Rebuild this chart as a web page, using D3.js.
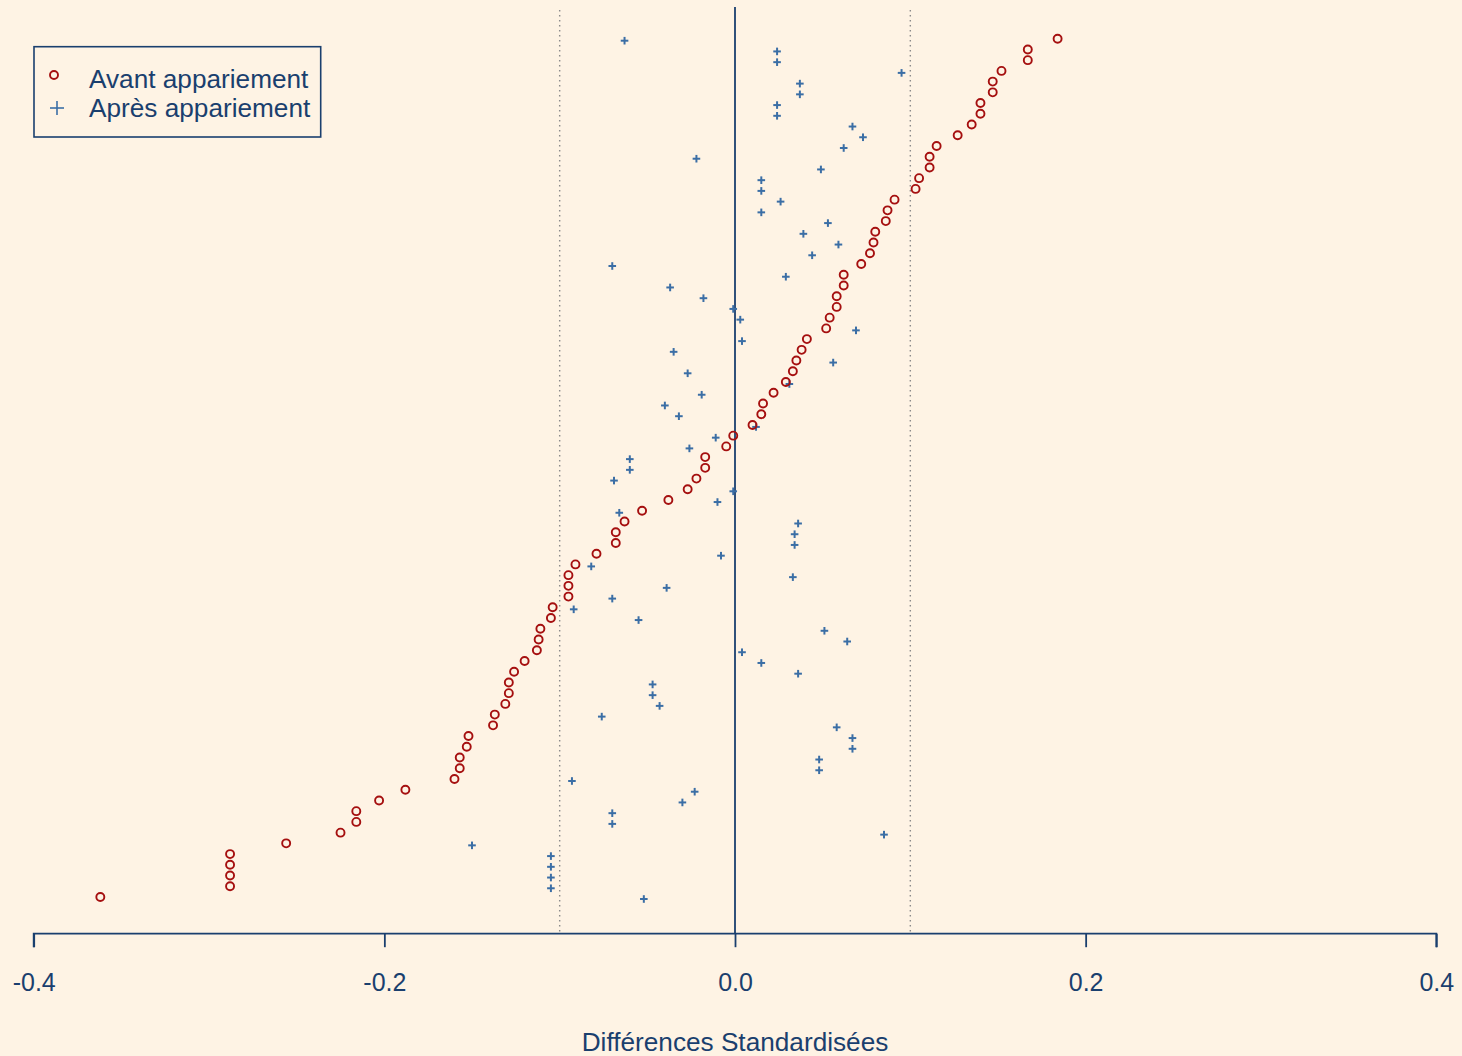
<!DOCTYPE html>
<html>
<head>
<meta charset="utf-8">
<script src="https://cdn.jsdelivr.net/npm/d3@7"></script>
<style>
    body { margin: 0; background: #fef3e4; }
    svg { display: block; font-family: "Liberation Sans", Arial, sans-serif; }
</style>
</head>
<body>
<div id="chart"></div>
<script>
// Standardised differences per variable, top row first
const AVANT = [
    0.184, 0.167, 0.167, 0.152, 0.147, 0.147, 0.140, 0.140, 0.135, 0.127,
    0.115, 0.111, 0.111, 0.105, 0.103, 0.091, 0.087, 0.086, 0.080, 0.079,
    0.077, 0.072, 0.062, 0.062, 0.058, 0.058, 0.054, 0.052, 0.041, 0.038,
    0.035, 0.033, 0.029, 0.022, 0.016, 0.015, 0.010, -0.001, -0.005, -0.017,
    -0.017, -0.022, -0.027, -0.038, -0.053, -0.063, -0.068, -0.068, -0.079, -0.091,
    -0.095, -0.095, -0.095, -0.104, -0.105, -0.111, -0.112, -0.113, -0.120, -0.126,
    -0.129, -0.129, -0.131, -0.137, -0.138, -0.152, -0.153, -0.157, -0.157, -0.160,
    -0.188, -0.203, -0.216, -0.216, -0.225, -0.256, -0.288, -0.288, -0.288, -0.288,
    -0.362
];

const APRES = [
    -0.063, 0.024, 0.024, 0.095, 0.037, 0.037, 0.024, 0.024, 0.067, 0.073,
    0.062, -0.022, 0.049, 0.015, 0.015, 0.026, 0.015, 0.053, 0.039, 0.059,
    0.044, -0.070, 0.029, -0.037, -0.018, -0.001, 0.003, 0.069, 0.004, -0.035,
    0.056, -0.027, 0.031, -0.019, -0.040, -0.032, 0.012, -0.011, -0.026, -0.060,
    -0.060, -0.069, -0.001, -0.010, -0.066, 0.036, 0.034, 0.034, -0.008, -0.082,
    0.033, -0.039, -0.070, -0.092, -0.055, 0.051, 0.064, 0.004, 0.015, 0.036,
    -0.047, -0.047, -0.043, -0.076, 0.058, 0.067, 0.067, 0.048, 0.048, -0.093,
    -0.023, -0.030, -0.070, -0.070, 0.085, -0.150, -0.105, -0.105, -0.105, -0.105,
    -0.052
];

const X_TICKS = [-0.4, -0.2, 0.0, 0.2, 0.4];
const THRESHOLDS = [-0.1, 0.1];
const LEGEND = ['Avant appariement', 'Après appariement'];
const X_TITLE = 'Différences Standardisées';

const W = 1462, H = 1056;
const RED = '#a50f0f';
const BLUE = '#3b6ea5';
const NAVY = '#1a3f6e';

const svg = d3.select('#chart').append('svg')
    .attr('width', W)
    .attr('height', H);

svg.append('rect')
    .attr('width', W).attr('height', H)
    .attr('fill', '#fef3e4');

// --- Scales ---
const x = d3.scaleLinear()
    .domain([-0.4, 0.4])
    .range([33.7, 1436.3]);

const y = d3.scaleLinear()
    .domain([0, AVANT.length - 1])
    .range([38.7, 897]);

const axisY = 933.7;
const plotTop = 7;

// --- Reference lines ---
THRESHOLDS.forEach(t => {
    svg.append('line')
        .attr('x1', x(t)).attr('x2', x(t))
        .attr('y1', plotTop + 3).attr('y2', axisY)
        .attr('stroke', '#8a8a8a')
        .attr('stroke-width', 1.4)
        .attr('stroke-dasharray', '1.4,3.6');
});

svg.append('line')
    .attr('x1', x(0)).attr('x2', x(0))
    .attr('y1', plotTop).attr('y2', axisY)
    .attr('stroke', NAVY)
    .attr('stroke-width', 1.8);

// --- Markers ---
const plusArm = 3.8;

function drawPlus(g, cx, cy) {
    g.append('line')
        .attr('x1', cx - plusArm).attr('x2', cx + plusArm)
        .attr('y1', cy).attr('y2', cy);
    g.append('line')
        .attr('x1', cx).attr('x2', cx)
        .attr('y1', cy - plusArm).attr('y2', cy + plusArm);
}

const plusG = svg.append('g')
    .attr('stroke', BLUE)
    .attr('stroke-width', 2);

APRES.forEach((v, i) => drawPlus(plusG, x(v), y(i) + 2));

svg.selectAll('.avant')
    .data(AVANT)
    .enter().append('circle')
    .attr('class', 'avant')
    .attr('cx', d => x(d))
    .attr('cy', (d, i) => y(i))
    .attr('r', 4)
    .attr('fill', 'none')
    .attr('stroke', RED)
    .attr('stroke-width', 1.9);

// --- Axis ---
const axis = svg.append('g')
    .attr('transform', `translate(0,${axisY})`)
    .call(d3.axisBottom(x).tickValues(X_TICKS).tickSize(13.5).tickPadding(0).tickFormat(d3.format('.1f')));

axis.select('.domain')
    .attr('stroke', NAVY)
    .attr('stroke-width', 1.8)
    .attr('d', `M${x(-0.4)},13.5V0H${x(0.4)}V13.5`);

axis.selectAll('.tick line')
    .attr('stroke', NAVY)
    .attr('stroke-width', 1.8);

axis.selectAll('.tick text')
    .attr('fill', NAVY)
    .attr('font-size', '25px')
    .attr('dy', null)
    .attr('y', 57.5)
    .text(d => d3.format('.1f')(d).replace('−', '-'));

axis.attr('font-family', null);

svg.append('text')
    .attr('x', x(0))
    .attr('y', 1051)
    .attr('text-anchor', 'middle')
    .attr('fill', NAVY)
    .attr('font-size', '26.2px')
    .text(X_TITLE);

// --- Legend ---
const legend = svg.append('g');

legend.append('rect')
    .attr('x', 34).attr('y', 46.7)
    .attr('width', 286.7).attr('height', 90.3)
    .attr('fill', '#fef3e4')
    .attr('stroke', NAVY)
    .attr('stroke-width', 1.6);

legend.append('circle')
    .attr('cx', 54).attr('cy', 75)
    .attr('r', 4)
    .attr('fill', 'none')
    .attr('stroke', RED)
    .attr('stroke-width', 1.9);

const legPlus = legend.append('g')
    .attr('stroke', BLUE)
    .attr('stroke-width', 1.6);
legPlus.append('line').attr('x1', 50).attr('x2', 64).attr('y1', 108).attr('y2', 108);
legPlus.append('line').attr('x1', 57).attr('x2', 57).attr('y1', 101).attr('y2', 115);

LEGEND.forEach((label, i) => {
    legend.append('text')
        .attr('x', 89)
        .attr('y', 87.7 + i * 29.5)
        .attr('fill', NAVY)
        .attr('font-size', '26.2px')
        .text(label);
});
</script>
</body>
</html>
